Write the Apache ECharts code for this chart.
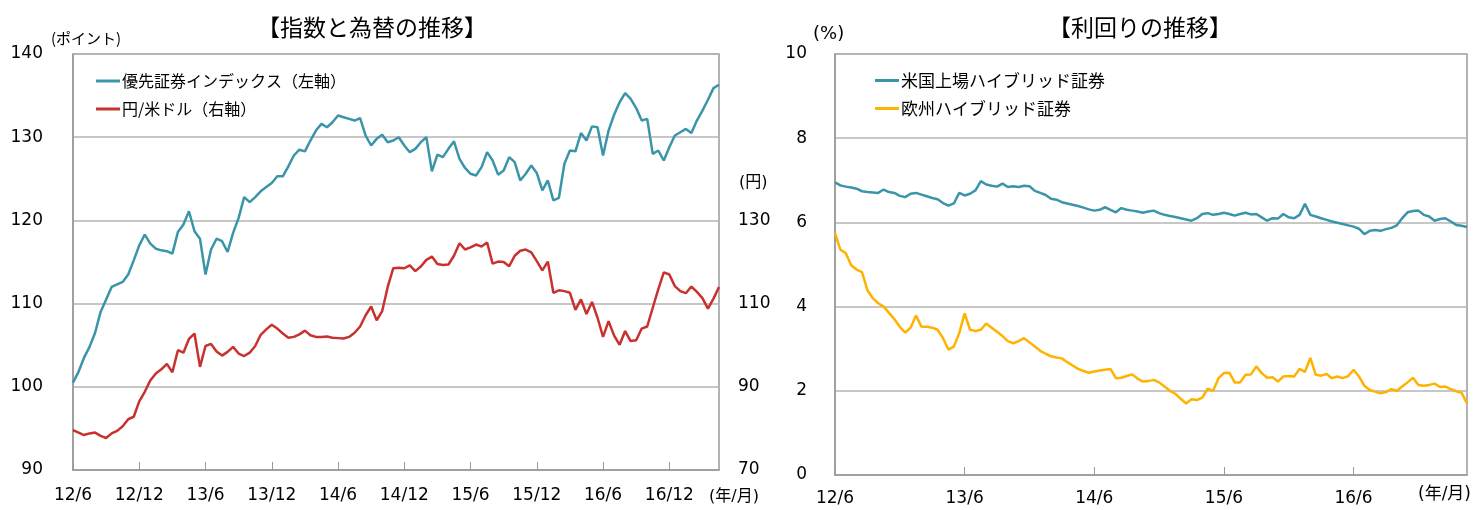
<!DOCTYPE html>
<html>
<head>
<meta charset="UTF-8">
<title>指数と為替・利回りの推移</title>
<script src="https://cdn.jsdelivr.net/npm/echarts@6/dist/echarts.min.js"></script>
<style>
html,body{margin:0;padding:0;background:#fff;}
#main{width:1484px;height:510px;}
</style>
</head>
<body>
<div id="main"></div>
<script type="text/javascript">
// 半月ごとの値（2012/6 〜 2017/4 前半）
var prefIndex = [
	100.5,101.8,103.5,104.8,106.5,109.0,110.5,112.0,112.3,112.6,
	113.5,115.2,117.0,118.3,117.2,116.6,116.4,116.3,116.0,118.6,
	119.5,121.1,118.7,117.8,113.5,116.5,117.8,117.5,116.2,118.5,
	120.3,122.8,122.2,122.8,123.5,124.0,124.5,125.3,125.3,126.5,
	127.8,128.5,128.3,129.6,130.8,131.6,131.2,131.8,132.6,132.4,
	132.2,132.0,132.3,130.2,129.0,129.8,130.3,129.4,129.6,130.0,
	129.0,128.2,128.6,129.4,130.0,125.9,127.9,127.6,128.6,129.5,
	127.4,126.3,125.6,125.4,126.4,128.2,127.2,125.5,126.0,127.6,
	127.0,124.8,125.6,126.6,125.7,123.6,124.8,122.4,122.7,126.8,
	128.4,128.3,130.5,129.6,131.3,131.2,127.8,130.8,132.7,134.2,
	135.3,134.6,133.5,132.0,132.2,128.0,128.4,127.2,128.8,130.2,
	130.6,131.0,130.5,132.0,133.2,134.5,135.9,136.3
];
var usdJpy = [
	79.6,79.0,78.4,78.8,79.0,78.2,77.7,78.8,79.4,80.5,
	82.2,82.8,86.5,88.8,91.5,93.2,94.2,95.5,93.5,98.8,
	98.2,101.5,102.8,94.8,99.8,100.3,98.5,97.5,98.4,99.6,
	98.0,97.4,98.2,99.8,102.5,103.8,104.9,104.0,102.8,101.8,
	102.0,102.6,103.5,102.4,102.0,102.0,102.1,101.8,101.7,101.6,
	102.0,103.0,104.5,107.2,109.3,106.0,108.2,114.0,118.5,118.6,
	118.5,119.2,117.8,118.9,120.5,121.3,119.5,119.3,119.4,121.5,
	124.5,123.0,123.5,124.2,123.7,124.7,119.6,120.1,120.0,119.0,
	121.5,122.7,123.0,122.3,120.2,118.0,120.1,112.6,113.2,113.0,
	112.6,108.5,111.0,107.5,110.4,106.6,102.0,105.8,102.3,100.1,
	103.4,101.0,101.2,104.0,104.5,109.0,113.4,117.5,117.0,114.2,
	113.0,112.5,114.1,112.8,111.3,108.8,111.2,114.0
];
var usHybrid = [
	6.95,6.88,6.85,6.83,6.80,6.74,6.72,6.71,6.70,6.78,
	6.72,6.70,6.63,6.60,6.68,6.70,6.66,6.62,6.58,6.55,
	6.46,6.40,6.45,6.70,6.64,6.68,6.76,6.98,6.90,6.87,
	6.85,6.92,6.84,6.86,6.84,6.87,6.86,6.75,6.70,6.65,
	6.56,6.54,6.48,6.45,6.42,6.39,6.35,6.31,6.28,6.30,
	6.36,6.30,6.24,6.34,6.30,6.28,6.26,6.23,6.26,6.28,
	6.22,6.18,6.15,6.13,6.10,6.07,6.04,6.10,6.20,6.22,
	6.18,6.20,6.23,6.20,6.16,6.20,6.23,6.19,6.20,6.12,
	6.04,6.10,6.09,6.20,6.12,6.10,6.18,6.44,6.18,6.14,
	6.10,6.06,6.02,5.99,5.96,5.93,5.90,5.85,5.72,5.80,
	5.82,5.80,5.84,5.87,5.93,6.10,6.24,6.27,6.28,6.18,
	6.14,6.04,6.08,6.10,6.02,5.94,5.92,5.89
];
var euHybrid = [
	5.75,5.35,5.27,4.98,4.88,4.82,4.39,4.20,4.08,4.00,
	3.85,3.70,3.52,3.38,3.50,3.79,3.52,3.52,3.50,3.45,
	3.25,2.98,3.05,3.37,3.84,3.45,3.42,3.45,3.60,3.50,
	3.40,3.30,3.18,3.13,3.18,3.25,3.15,3.05,2.95,2.88,
	2.82,2.79,2.77,2.68,2.60,2.52,2.47,2.43,2.46,2.48,
	2.50,2.52,2.30,2.31,2.35,2.39,2.29,2.22,2.23,2.26,
	2.20,2.10,2.00,1.93,1.81,1.70,1.80,1.78,1.84,2.05,
	2.00,2.30,2.42,2.43,2.20,2.20,2.38,2.39,2.58,2.42,
	2.31,2.32,2.22,2.34,2.35,2.34,2.52,2.45,2.78,2.38,
	2.36,2.40,2.30,2.34,2.30,2.35,2.50,2.34,2.12,2.02,
	1.98,1.94,1.97,2.04,2.00,2.10,2.20,2.31,2.14,2.12,
	2.14,2.17,2.09,2.10,2.04,1.99,1.95,1.70
];

// 日付（半月刻み）
var dates = [];
for (var i = 0; i < prefIndex.length; i++) {
	var m = 5 + Math.floor(i / 2);
	dates.push((2012 + Math.floor(m / 12)) + '/' + (m % 12 + 1) + '/' + (i % 2 ? 16 : 1));
}

var NUM = 'DejaVu Sans';
var JP = 'Noto Sans CJK JP';
var teal = '#3A95AA', red = '#C8312E', yellow = '#FFB200';
var gridColor = '#B4B4B4', borderColor = '#9A9A9A';

function dateLabel(v) {
	var p = v.split('/');
	return p[0].slice(2) + '/' + p[1];
}

function xAxisOf(gridIndex, every, margin) {
	return {
		type: 'category', gridIndex: gridIndex, data: dates, boundaryGap: false,
		axisLine: {lineStyle: {color: borderColor, width: 1.5}},
		axisTick: {inside: true, length: 8, lineStyle: {color: borderColor},
			interval: function (idx) { return idx % every === 0; }},
		axisLabel: {color: '#000', fontFamily: NUM, fontSize: 17, margin: margin,
			interval: function (idx) { return idx % every === 0; }, formatter: dateLabel},
		splitLine: {show: false}
	};
}

var myChart = echarts.init(document.getElementById('main'));
myChart.setOption({
	animation: false,
	title: [
		{text: '【指数と為替の推移】', left: 367, top: 11, textAlign: 'center',
			textStyle: {fontFamily: JP, fontSize: 23, fontWeight: 'normal', color: '#000'}},
		{text: '【利回りの推移】', left: 1135, top: 11, textAlign: 'center',
			textStyle: {fontFamily: JP, fontSize: 23, fontWeight: 'normal', color: '#000'}}
	],
	legend: [
		{data: ['優先証券インデックス（左軸）', '円/米ドル（右軸）'], orient: 'vertical',
			left: 91, top: 68, itemGap: 12, itemWidth: 24, itemHeight: 3, icon: 'rect',
			textStyle: {fontFamily: JP, fontSize: 16, color: '#000', padding: [0, 0, 0, -3]}},
		{data: ['米国上場ハイブリッド証券', '欧州ハイブリッド証券'], orient: 'vertical',
			left: 870, top: 67, itemGap: 11, itemWidth: 24, itemHeight: 3, icon: 'rect',
			textStyle: {fontFamily: JP, fontSize: 17, color: '#000', padding: [0, 0, 0, -3]}}
	],
	grid: [
		{left: 73, right: 765, top: 54, bottom: 40, show: true, borderColor: borderColor, borderWidth: 1.5},
		{left: 835, right: 17, top: 54, bottom: 35, show: true, borderColor: borderColor, borderWidth: 1.5}
	],
	xAxis: [xAxisOf(0, 12, 17), xAxisOf(1, 24, 15)],
	yAxis: [
		{type: 'value', gridIndex: 0, min: 90, max: 140, interval: 10,
			axisLine: {show: true, lineStyle: {color: borderColor, width: 1.5}}, axisTick: {show: false},
			axisLabel: {color: '#000', fontFamily: NUM, fontSize: 17, margin: 30},
			splitLine: {lineStyle: {color: gridColor, width: 1.5}}},
		{type: 'value', gridIndex: 0, position: 'right', min: 70, max: 170, interval: 20,
			axisLine: {show: false}, axisTick: {show: false}, splitLine: {show: false},
			axisLabel: {color: '#000', fontFamily: NUM, fontSize: 17, margin: 19,
				formatter: function (v) { return v <= 130 ? v : ''; }}},
		{type: 'value', gridIndex: 1, min: 0, max: 10, interval: 2,
			axisLine: {show: true, lineStyle: {color: borderColor, width: 1.5}}, axisTick: {show: false},
			axisLabel: {color: '#000', fontFamily: NUM, fontSize: 17, margin: 28},
			splitLine: {lineStyle: {color: gridColor, width: 1.5}}}
	],
	series: [
		{name: '優先証券インデックス（左軸）', type: 'line', xAxisIndex: 0, yAxisIndex: 0,
			data: prefIndex, showSymbol: false, color: teal, lineStyle: {width: 2.5}},
		{name: '円/米ドル（右軸）', type: 'line', xAxisIndex: 0, yAxisIndex: 1,
			data: usdJpy, showSymbol: false, color: red, lineStyle: {width: 2.5}},
		{name: '米国上場ハイブリッド証券', type: 'line', xAxisIndex: 1, yAxisIndex: 2,
			data: usHybrid, showSymbol: false, color: teal, lineStyle: {width: 2.5}},
		{name: '欧州ハイブリッド証券', type: 'line', xAxisIndex: 1, yAxisIndex: 2,
			data: euHybrid, showSymbol: false, color: yellow, lineStyle: {width: 2.5}}
	],
	graphic: [
		{type: 'text', left: 51, top: 31, style: {text: '(ポイント)', font: '15px "Noto Sans CJK JP"', fill: '#000'}},
		{type: 'text', left: 739, top: 175, style: {text: '(円)', font: '16px "DejaVu Sans", "Noto Sans CJK JP"', fill: '#000'}},
		{type: 'text', left: 709, top: 489, style: {text: '(年/月)', font: '16px "DejaVu Sans", "Noto Sans CJK JP"', fill: '#000'}},
		{type: 'text', left: 813, top: 25, style: {text: '(%)', font: '18px "DejaVu Sans"', fill: '#000'}},
		{type: 'text', left: 1418, top: 486, style: {text: '(年/月)', font: '17px "DejaVu Sans", "Noto Sans CJK JP"', fill: '#000'}}
	]
});
</script>
</body>
</html>
